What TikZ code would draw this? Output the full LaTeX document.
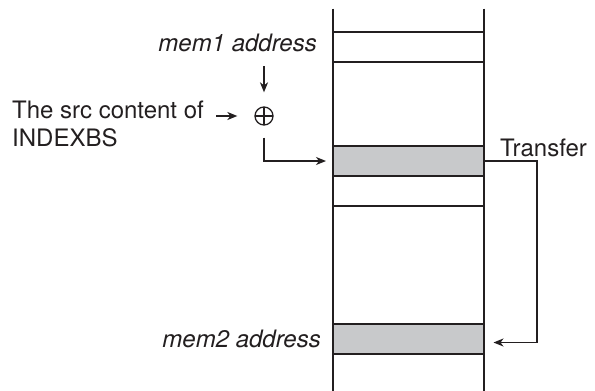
\documentclass[tikz,border=0pt]{standalone}
\usepackage{fontspec}
\setmainfont{TeX Gyre Heros}
\usetikzlibrary{arrows.meta}
\definecolor{ink}{HTML}{231F20}
\definecolor{cellgray}{HTML}{C8C9CB}
\begin{document}
\begin{tikzpicture}[x=1pt,y=-1pt,
  txt/.style={inner sep=0pt, text=ink, font=\fontsize{24}{28}\selectfont},
  cell/.style={draw=ink, line width=2pt, minimum width=151pt, minimum height=30pt, inner sep=0pt},
  graycell/.style={cell, fill=cellgray},
  arr/.style={draw=ink, line width=1.5pt, -{Stealth[length=10pt,width=8pt,inset=3pt]}},
  wall/.style={draw=ink, line width=2.3pt}]
\fill[white] (0,0) rectangle (595,391);
\useasboundingbox (0,0) rectangle (595,391);
% memory cells
\node[cell] (c1) at (408.5,47.3) {};
\node[graycell] (g1) at (408.5,161) {};
\node[cell] (c3) at (408.5,191.3) {};
\node[graycell] (g2) at (408.5,338.5) {};
% walls
\coordinate (wlt) at (332.7,8.5);
\coordinate (wlb) at (332.7,391);
\coordinate (wrt) at (484,8.5);
\coordinate (wrb) at (484,391);
\draw[wall] (wlt) -- (wlb);
\draw[wall] (wrt) -- (wrb);
% labels
\node[txt, anchor=base east] (mem1) at (317,51) {\itshape mem1 address};
\node[txt, anchor=base east] (mem2) at (321,347) {\itshape mem2 address};
\node[txt, anchor=base west] (transfer) at (500,156) {Transfer};
\node[txt, anchor=north west, align=left] (src) at (12,101) {The src content of\\INDEXBS};
% adder
\node[circle, draw=ink, line width=1.3pt, minimum size=18pt, inner sep=0pt,
  path picture={\draw[ink, line width=1.3pt] (path picture bounding box.north) -- (path picture bounding box.south)
     (path picture bounding box.west) -- (path picture bounding box.east);}] (plus) at (264,116) {};
% connectors
\coordinate (m1tail) at (264,66);
\coordinate (srctail) at (216,116);
\draw[arr, shorten >=14pt] (m1tail) -- (plus.north);
\draw[arr, shorten >=17pt] (srctail) -- (plus.west);
\draw[arr, shorten <=12pt, shorten >=6pt] (plus.south) |- (g1.west);
\coordinate (tr) at (537,161);
\draw[arr, line width=1.3pt, shorten >=8.5pt] (g1.east) -- (tr) |- ([yshift=-4pt]g2.east);
\end{tikzpicture}
\end{document}
